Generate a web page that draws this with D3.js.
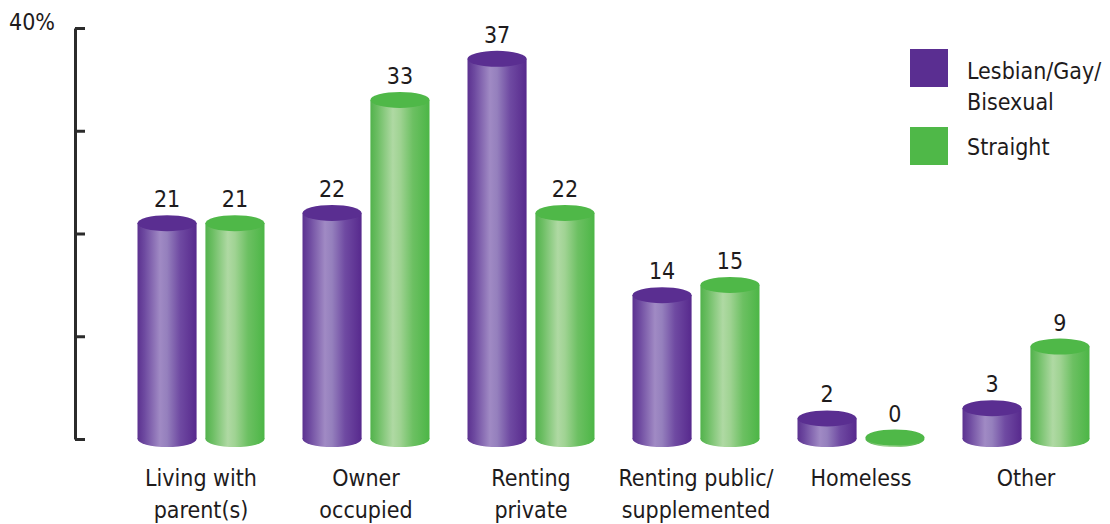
<!DOCTYPE html>
<html><head><meta charset="utf-8">
<script src="https://cdn.jsdelivr.net/npm/d3@7"></script>
<style>
body{margin:0;background:#fff;}
svg text{font-family:"Liberation Sans Narrow","DejaVu Sans Condensed","Open Sans",sans-serif;fill:#1e1b1c;}
</style></head>
<body><svg id="c" width="1110" height="524"></svg>
<script>
const categories = [["Living with","parent(s)"],["Owner","occupied"],["Renting","private"],["Renting public/","supplemented"],["Homeless"],["Other"]];
const series = ["Lesbian/Gay/Bisexual","Straight"];
const lgbValues = [21,22,37,14,2,3];
const straightValues = [21,33,22,15,0,9];
const yTicks = [0,10,20,30,40];
const legendLabels = [["Lesbian/Gay/","Bisexual"],["Straight"]];

const svg = d3.select("#c");
const defs = svg.append("defs");
const colors = {top:["#5a2e91","#4fb848"], grad:[
  [["0%","#5b3190"],["12%","#6e4aa0"],["38%","#a08ac4"],["50%","#9580bd"],["72%","#6f4aa2"],["100%","#57298d"]],
  [["0%","#52b24c"],["12%","#6cbe63"],["38%","#afd9a3"],["50%","#a0d393"],["72%","#6cc062"],["100%","#4cb646"]]
]};
colors.grad.forEach((stops,i)=>{
  const g = defs.append("linearGradient").attr("id","g"+i).attr("x1","0").attr("x2","1").attr("y1","0").attr("y2","0");
  stops.forEach(s=>g.append("stop").attr("offset",s[0]).attr("stop-color",s[1]));
});

const y = d3.scaleLinear().domain([0,40]).range([439,28]);
const x0 = d3.scaleBand().domain(d3.range(categories.length)).range([118.5,1108.5]);
const x1 = d3.scaleBand().domain(d3.range(series.length)).range([-63.5,63.5]).paddingInner(0.13);

// axis
const axis = d3.axisRight(y).tickValues(yTicks).tickSize(10).tickSizeOuter(0).tickFormat("");
const ag = svg.append("g").attr("transform","translate(75,0)").call(axis);
ag.select(".domain").attr("stroke","#2b2b2b").attr("stroke-width",3);
ag.selectAll(".tick line").attr("stroke","#2b2b2b").attr("stroke-width",3);
svg.append("text").attr("x",9).attr("y",30).attr("font-size",23).text("40%");

const ry = 8;
const data = [lgbValues, straightValues];
const bw = x1.bandwidth();
categories.forEach((cat,ci)=>{
  data.forEach((vals,si)=>{
    const v = vals[ci];
    const cx = x0(ci) + x0.bandwidth()/2 + x1(si) + bw/2;
    const g = svg.append("g");
    const yt = y(v), yb = y(0);
    if (v > 0) {
      g.append("rect").attr("x",cx-bw/2).attr("y",yt).attr("width",bw).attr("height",yb-yt).attr("fill","url(#g"+si+")");
    }
    g.append("ellipse").attr("cx",cx).attr("cy",yb).attr("rx",bw/2).attr("ry",ry).attr("fill","url(#g"+si+")");
    if (v === 0) {
      g.append("ellipse").attr("cx",cx).attr("cy",yb-1.5).attr("rx",bw/2).attr("ry",ry).attr("fill",colors.top[si]);
    } else {
      g.append("ellipse").attr("cx",cx).attr("cy",yt).attr("rx",bw/2).attr("ry",ry).attr("fill",colors.top[si]);
    }
    svg.append("text").attr("x",cx).attr("y",(v===0?yb-1.5:yt)-16).attr("text-anchor","middle").attr("font-size",23).text(v);
  });
  const cxg = x0(ci)+x0.bandwidth()/2;
  cat.forEach((line,li)=>{
    svg.append("text").attr("x",cxg).attr("y",486+li*32).attr("text-anchor","middle").attr("font-size",23).text(line);
  });
});

// legend
const ly = [49,127];
series.forEach((s,i)=>{
  svg.append("rect").attr("x",910).attr("y",ly[i]).attr("width",38).attr("height",38).attr("fill",colors.top[i]);
  legendLabels[i].forEach((line,li)=>{
    svg.append("text").attr("x",967).attr("y",(i===0?79:155)+li*31).attr("font-size",23).text(line);
  });
});
</script></body></html>
